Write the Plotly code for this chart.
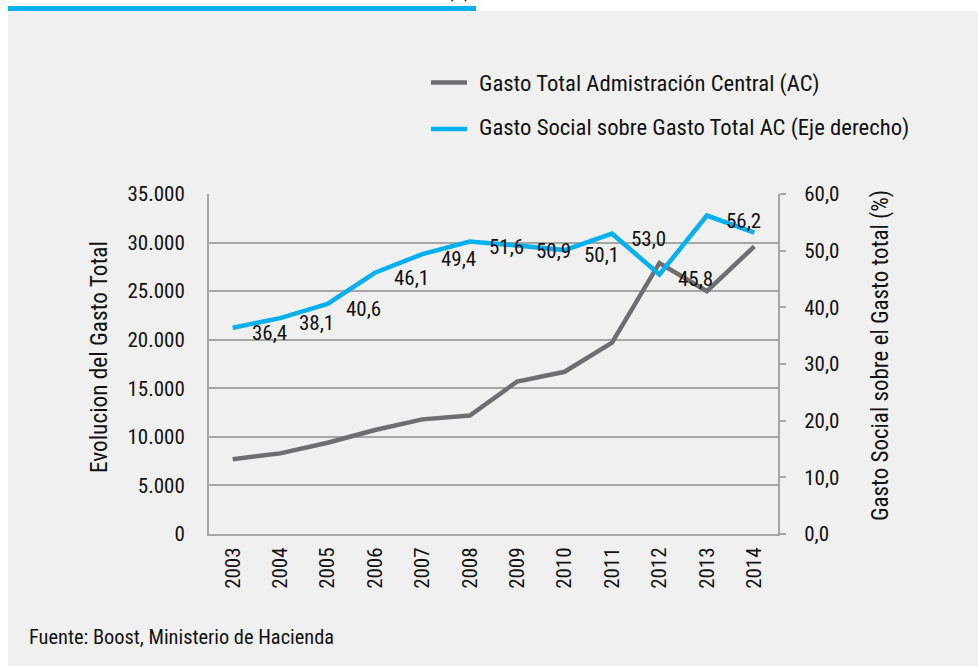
import plotly.graph_objects as go

years = [str(y) for y in range(2003, 2015)]
gasto_total = [7700, 8300, 9400, 10700, 11800, 12200, 15700, 16700, 19700, 27900, 25000, 29600]
gasto_social_pct = [36.4, 38.1, 40.6, 46.1, 49.4, 51.6, 50.9, 50.1, 53.0, 45.8, 56.2, 53.2]
left_ticks = [0, 5000, 10000, 15000, 20000, 25000, 30000, 35000]
right_ticks = [0, 10, 20, 30, 40, 50, 60]

name_total = "Gasto Total Admistración Central (AC)"
name_social = "Gasto Social sobre Gasto Total AC (Eje derecho)"
title_left = "Evolucion del Gasto Total"
title_right = "Gasto Social sobre el Gasto total (%)"
source = "Fuente: Boost, Ministerio de Hacienda"

GRAY = "#6e6e70"
BLUE = "#00b0f0"
GRID = "#a6a6a6"
TXT = "#111111"
FONT = "Roboto Condensed, DejaVu Sans Condensed, Liberation Sans Narrow, Roboto, sans-serif"
FS = 21

W, H = 978, 666
L, R, T, B = 209, 778, 194, 534


def px(x):
    return (x - L) / (R - L)


def py(y):
    return (B - y) / (B - T)


fig = go.Figure()
fig.add_trace(go.Scatter(x=years, y=gasto_total, mode="lines", name=name_total,
                         line=dict(color=GRAY, width=4.5), yaxis="y", showlegend=False))
fig.add_trace(go.Scatter(x=years, y=gasto_social_pct, mode="lines", name=name_social,
                         line=dict(color=BLUE, width=4.5), yaxis="y2", showlegend=False))

shapes = [
    dict(type="rect", xref="paper", yref="paper", x0=px(8), x1=px(978), y0=py(666), y1=py(11),
         fillcolor="#f0f0f0", line=dict(width=0), layer="below"),
    dict(type="rect", xref="paper", yref="paper", x0=px(8), x1=px(476), y0=py(11), y1=py(6),
         fillcolor=BLUE, line=dict(width=0), layer="below"),
    dict(type="line", xref="paper", yref="paper", x0=px(431), x1=px(467), y0=py(82.5), y1=py(82.5),
         line=dict(color=GRAY, width=4.5)),
    dict(type="line", xref="paper", yref="paper", x0=px(431), x1=px(467), y0=py(129), y1=py(129),
         line=dict(color=BLUE, width=4.5)),
]

annotations = [
    dict(text=name_total, xref="paper", yref="paper", x=px(477), y=py(83), xanchor="left",
         yanchor="middle", showarrow=False, font=dict(family=FONT, size=22.7, color=TXT)),
    dict(text=name_social, xref="paper", yref="paper", x=px(477), y=py(127), xanchor="left",
         yanchor="middle", showarrow=False, font=dict(family=FONT, size=22.7, color=TXT)),
    dict(text=title_left, xref="paper", yref="paper", x=px(99), y=py(357), textangle=-90,
         xanchor="center", yanchor="middle", showarrow=False,
         font=dict(family=FONT, size=23.3, color=TXT)),
    dict(text=title_right, xref="paper", yref="paper", x=px(880), y=py(356), textangle=-90,
         xanchor="center", yanchor="middle", showarrow=False,
         font=dict(family=FONT, size=23, color=TXT)),
    dict(text=source, xref="paper", yref="paper", x=px(27), y=py(637), xanchor="left",
         yanchor="middle", showarrow=False, font=dict(family=FONT, size=20.4, color=TXT)),
    dict(text="(1)", xref="paper", yref="paper", x=px(459), y=py(4), xanchor="center",
         yanchor="bottom", showarrow=False, font=dict(family=FONT, size=FS, color=TXT)),
]

# data labels (shifted one category to the right, as in the original)
for i in range(len(gasto_social_pct) - 1):
    v = gasto_social_pct[i]
    annotations.append(dict(
        text=f"{v:.1f}".replace(".", ","), x=i + 1, y=v, xref="x", yref="y2",
        xshift=-11, yshift=-5, showarrow=False, xanchor="center", yanchor="middle",
        font=dict(family=FONT, size=FS, color=TXT)))

fig.update_layout(
    width=W, height=H, autosize=False,
    margin=dict(l=L, r=W - R, t=T, b=H - B, pad=0),
    paper_bgcolor="white", plot_bgcolor="rgba(0,0,0,0)",
    separators=",.",
    font=dict(family=FONT, size=FS, color=TXT),
    shapes=shapes, annotations=annotations,
    xaxis=dict(type="category", range=[-0.5, 11.5], showline=True, linecolor=GRID, linewidth=2,
               ticks="", tickangle=-90, showgrid=False, ticklabelstandoff=3,
               tickfont=dict(family=FONT, size=FS, color=TXT)),
    yaxis=dict(range=[0, 35000], tickvals=left_ticks, tickformat=",d", showline=True,
               linecolor=GRID, linewidth=2, showgrid=True, gridcolor=GRID, gridwidth=2,
               zeroline=False, ticks="", ticklabelstandoff=18,
               tickfont=dict(family=FONT, size=FS, color=TXT)),
    yaxis2=dict(range=[0, 60], tickvals=right_ticks, tickformat=".1f", overlaying="y", side="right",
                showline=True, linecolor=GRID, linewidth=2, showgrid=False, zeroline=False,
                ticks="outside", ticklen=6, tickwidth=2, tickcolor=GRID, ticklabelstandoff=14,
                tickfont=dict(family=FONT, size=FS, color=TXT)),
)

fig.write_html("out.html", config={"displayModeBar": False},
               post_script="document.body.style.margin='0';document.body.style.padding='0';")
